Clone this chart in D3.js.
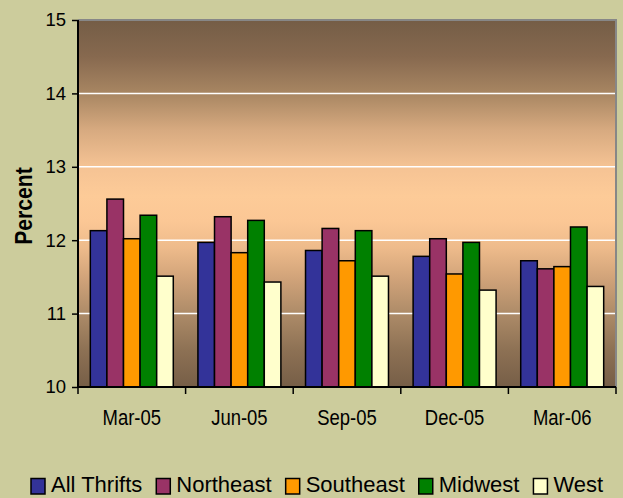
<!DOCTYPE html>
<html>
<head>
<meta charset="utf-8">
<script src="https://cdn.jsdelivr.net/npm/d3@7"></script>
<style>
  html, body { margin: 0; padding: 0; background: #cccc9c; }
  svg { display: block; font-family: "Liberation Sans", Arial, sans-serif; }
</style>
</head>
<body>
<svg id="chart" width="623" height="498"></svg>
<script>
const categories = ["Mar-05", "Jun-05", "Sep-05", "Dec-05", "Mar-06"];
const seriesNames = ["All Thrifts", "Northeast", "Southeast", "Midwest", "West"];
const allThrifts = [12.13, 11.97, 11.86, 11.78, 11.72];
const northeast  = [12.56, 12.32, 12.16, 12.02, 11.61];
const southeast  = [12.02, 11.83, 11.72, 11.54, 11.64];
const midwest    = [12.34, 12.27, 12.13, 11.97, 12.18];
const west       = [11.51, 11.43, 11.51, 11.32, 11.37];
const yTicks = [10, 11, 12, 13, 14, 15];
const colors = ["#333399", "#993366", "#ff9900", "#008000", "#ffffcc"];

const seriesValues = [allThrifts, northeast, southeast, midwest, west];
const data = categories.map((c, i) => ({
  cat: c,
  vals: seriesNames.map((s, j) => ({ series: s, value: seriesValues[j][i], color: colors[j] }))
}));

const svg = d3.select("#chart");
const mLeft = 78, mRight = 616, mTop = 20, mBottom = 387;

const x0 = d3.scaleBand().domain(categories).range([mLeft, mRight]).paddingInner(0.229).paddingOuter(0.1145);
const x1 = d3.scaleBand().domain(seriesNames).range([0, x0.bandwidth()]).padding(0);
const y = d3.scaleLinear().domain([10, 15]).range([mBottom, mTop]);

// gradient background
const defs = svg.append("defs");
const grad = defs.append("linearGradient").attr("id", "bg").attr("x1", 0).attr("y1", 0).attr("x2", 0).attr("y2", 1);
[[0, "#745d46"], [0.10, "#87694f"], [0.20, "#a88662"], [0.30, "#d7aa80"], [0.40, "#f5c394"],
 [0.48, "#fdcb98"], [0.55, "#fbc795"], [0.62, "#eebb8b"], [0.70, "#d2a47a"], [0.80, "#ad8b68"],
 [0.90, "#8d7154"], [1, "#765e47"]].forEach(s => grad.append("stop").attr("offset", s[0]).attr("stop-color", s[1]));

svg.append("rect").attr("x", mLeft).attr("y", mTop).attr("width", mRight - mLeft).attr("height", mBottom - mTop)
  .attr("fill", "url(#bg)");

// gridlines
svg.append("g").selectAll("line").data(yTicks.filter(t => t > 10 && t < 15)).join("line")
  .attr("x1", mLeft).attr("x2", mRight).attr("y1", d => y(d)).attr("y2", d => y(d))
  .attr("stroke", "#ffffff").attr("stroke-width", 1.5);

// frame top & right (gray)
svg.append("path").attr("d", `M${mLeft},${mTop}H${mRight}V${mBottom}`).attr("fill", "none")
  .attr("stroke", "#878787").attr("stroke-width", 2);

// bars
const groups = svg.append("g").selectAll("g").data(data).join("g")
  .attr("transform", d => `translate(${x0(d.cat)},0)`);
groups.selectAll("rect").data(d => d.vals).join("rect")
  .attr("x", d => x1(d.series)).attr("width", x1.bandwidth())
  .attr("y", d => y(d.value)).attr("height", d => y(10) - y(d.value))
  .attr("fill", d => d.color).attr("stroke", "#000").attr("stroke-width", 1.5);

// y axis
const yAxis = svg.append("g").attr("transform", `translate(${mLeft},0)`)
  .call(d3.axisLeft(y).tickValues(yTicks).tickSize(6).tickPadding(6).tickFormat(d3.format("d")));
yAxis.select(".domain").attr("stroke", "#000").attr("stroke-width", 2).attr("d", `M0,${mTop}V${mBottom}`);
yAxis.selectAll(".tick line").attr("stroke", "#000").attr("stroke-width", 1.5);
yAxis.selectAll(".tick text").attr("font-size", "18.5px").attr("fill", "#000")
  .attr("font-family", "'Liberation Sans', Arial, sans-serif");

// x axis
const xAxis = svg.append("g").attr("transform", `translate(0,${mBottom})`)
  .call(d3.axisBottom(x0).tickSize(0).tickPadding(0));
xAxis.select(".domain").attr("stroke", "#000").attr("stroke-width", 2).attr("d", `M${mLeft},0H${mRight}`);
xAxis.selectAll(".tick text").attr("font-size", "22px").attr("fill", "#000").attr("dy", null)
  .attr("y", 0).attr("font-family", "'Liberation Sans', Arial, sans-serif")
  .attr("transform", "translate(0,38) scale(0.84,1)");
// boundary ticks
const bounds = categories.map(c => x0(c) - x0.step() * x0.paddingOuter()).concat([mRight]);
svg.append("g").selectAll("line").data(bounds).join("line")
  .attr("x1", d => d).attr("x2", d => d).attr("y1", mBottom).attr("y2", mBottom + 7)
  .attr("stroke", "#000").attr("stroke-width", 1.5);

// y title
svg.append("text").attr("transform", "translate(32,206) rotate(-90) scale(0.88,1)")
  .attr("text-anchor", "middle").attr("font-size", "24px").attr("font-weight", "bold")
  .attr("fill", "#000").text("Percent");

// legend
const leg = svg.append("g");
let lx = 31;
seriesNames.forEach((s, j) => {
  leg.append("rect").attr("x", lx).attr("y", 478.5).attr("width", 14).attr("height", 15.5)
    .attr("fill", colors[j]).attr("stroke", "#000").attr("stroke-width", 1.5);
  const t = leg.append("text").attr("x", lx + 20).attr("y", 491.5).attr("font-size", "22px")
    .attr("fill", "#000").text(s);
  lx += 20 + t.node().getComputedTextLength() + 14;
});
</script>
</body>
</html>
